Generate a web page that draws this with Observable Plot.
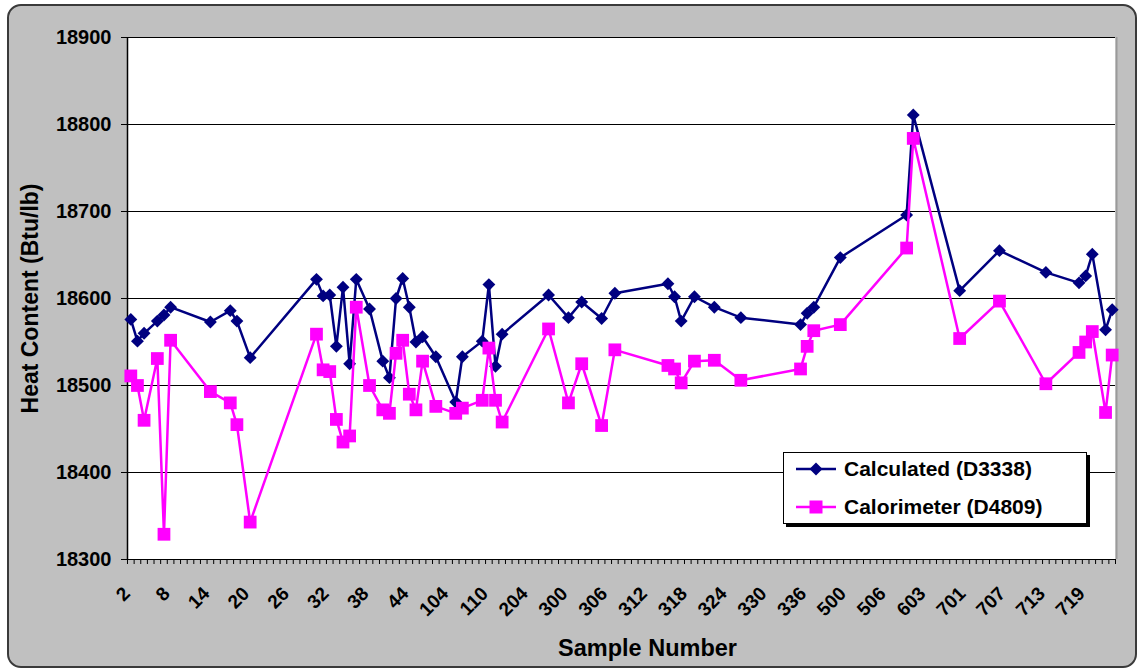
<!DOCTYPE html>
<html><head><meta charset="utf-8">
<script src="https://cdn.jsdelivr.net/npm/d3@7"></script>
<script src="https://cdn.jsdelivr.net/npm/@observablehq/plot@0.6"></script>
<style>
body{margin:0;background:#fff;font-family:"Liberation Sans",Arial,sans-serif;}
#wrap{position:relative;width:1140px;height:670px;overflow:hidden;background:#fff;}
#bg{position:absolute;left:7px;top:4px;width:1130px;height:664px;box-sizing:border-box;border:2px solid #3a3a3a;border-radius:14px;background:#c0c0c0;}
#chart{position:absolute;left:0;top:0;}
#legend{position:absolute;left:783px;top:452px;width:304px;height:72px;box-sizing:border-box;background:#fff;border:1px solid #000;box-shadow:3px 3px 0 #000;font-weight:bold;font-size:21px;color:#000;}
#legend .row{position:absolute;left:10px;height:24px;display:flex;align-items:center;}
#legend .row span{margin-left:6px;white-space:nowrap;}
</style></head><body>
<div id="wrap"><div id="bg"></div><div id="chart"></div>
<div id="legend">
  <div class="row" style="top:4px"><svg width="44" height="20"><line x1="2" x2="42" y1="10" y2="10" stroke="#000080" stroke-width="2.5"/><path d="M22,3.5 L28.5,10 L22,16.5 L15.5,10Z" fill="#000080"/></svg><span>Calculated (D3338)</span></div>
  <div class="row" style="top:42px"><svg width="44" height="20"><line x1="2" x2="42" y1="10" y2="10" stroke="#ff00ff" stroke-width="2.5"/><rect x="15.5" y="3.5" width="13" height="13" fill="#ff00ff"/></svg><span>Calorimeter (D4809)</span></div>
</div>
</div>
<script>
// All category slots of the x axis (sample numbers)
const categories = ["2","3","4","5","6","7","8","9","10","11","12","13","14","15","16","17","18","19","20","21","22","23","24","25","26","27","28","29","30","31","32","33","34","35","36","37","38","39","40","41","42","43","44",
"45","46","47","48","49",
"104","105","106","107","108","109","110",
"111","112","113","202","203",
"204","205","206","207","208","209",
"300","301","302","303","304","305","306","307","308","309","310","311","312","313","314","315","316","317","318","319","320","321","322","323","324","325","326","327","328","329","330","331","332","333","334","335","336",
"337","338","339","340","341",
"500","501","502","503","504","505","506",
"507","508","600","601","602",
"603","604","605","606","607","608",
"701","702","703","704","705","706","707","708","709","710","711","712","713","714","715","716","717","718","719","720","721","722","723"];
const tickLabels = ["2","8","14","20","26","32","38","44","104","110","204","300","306","312","318","324","330","336","500","506","603","701","707","713","719"];
const yTicks = [18300,18400,18500,18600,18700,18800,18900];

const samples = ["2","3","4","6","7","8","14","17","18","20","30","31","32","33","34","35","36","38","40","41","42","43","44","45","46","48","105","106","109","110","111","112","207","300","302","305","307","315","316","317","319","322","326","335","336","337","341","600","601","608","706","713","718","719","720","722","723"];
const calculated = [18576,18551,18560,18574,18581,18590,18573,18586,18574,18532,18622,18603,18604,18545,18613,18525,18622,18588,18528,18509,18600,18623,18590,18550,18556,18533,18481,18533,18551,18616,18522,18559,18604,18578,18596,18577,18606,18617,18602,18574,18602,18590,18578,18570,18583,18590,18647,18696,18811,18609,18655,18630,18618,18626,18651,18564,18587];
const calorimeter = [18511,18500,18460,18531,18329,18552,18493,18480,18455,18343,18559,18518,18516,18461,18435,18442,18590,18500,18472,18468,18537,18552,18490,18472,18528,18476,18468,18474,18483,18543,18483,18458,18565,18480,18525,18454,18541,18523,18519,18503,18528,18529,18506,18519,18545,18563,18570,18658,18784,18554,18597,18502,18538,18550,18562,18469,18535];

const W = 1140, H = 670;
const mL = 127, mR = 25, mT = 37, mB = 111;
const step = (W - mL - mR) / categories.length;
const rows = samples.map((s, i) => ({sample: s, calc: calculated[i], calor: calorimeter[i]}));
const font = '"Liberation Sans", Arial, sans-serif';
const last = categories[categories.length - 1];

const chart = Plot.plot({
  width: W, height: H,
  marginLeft: mL, marginRight: mR, marginTop: mT, marginBottom: mB,
  style: {background: "transparent", fontFamily: font, color: "black", overflow: "visible"},
  x: {type: "point", domain: categories, padding: 0.5, align: 0.5},
  y: {domain: [18300, 18900]},
  marks: [
    Plot.frame({fill: "white", stroke: "none"}),
    Plot.ruleY(yTicks, {stroke: "black", strokeWidth: 1}),
    Plot.ruleX([categories[0]], {dx: -step / 2, stroke: "black", strokeWidth: 1.5}),
    Plot.ruleX([last], {dx: step / 2 + 1, stroke: "#9a9a9a", strokeWidth: 2}),
    Plot.axisY({ticks: yTicks, tickSize: 6, tickPadding: 10, fontSize: 20, fontWeight: "bold", label: null, tickFormat: d => String(d)}),
    Plot.axisX({ticks: categories, tickSize: 5, tickFormat: () => "", dx: -step / 2, label: null}),
    Plot.axisX({ticks: [last], tickSize: 5, tickFormat: () => "", dx: step / 2, label: null}),
    Plot.text(tickLabels, {x: d => d, text: d => d, frameAnchor: "bottom", dy: 31, dx: -4, rotate: -45, textAnchor: "end", lineAnchor: "middle", fontSize: 19, fontWeight: "bold", fill: "black"}),
    Plot.text(["Heat Content (Btu/lb)"], {text: d => d, frameAnchor: "left", dx: -97, rotate: -90, textAnchor: "middle", lineAnchor: "middle", fontSize: 23, fontWeight: "bold", fill: "black"}),
    Plot.text(["Sample Number"], {text: d => d, frameAnchor: "bottom", dx: 26, dy: 96, textAnchor: "middle", lineAnchor: "bottom", fontSize: 23.5, fontWeight: "bold", fill: "black"}),
    Plot.line(rows, {x: "sample", y: "calc", stroke: "#000080", strokeWidth: 2.5}),
    Plot.dot(rows, {x: "sample", y: "calc", symbol: "diamond2", r: 5.8, fill: "#000080", stroke: "none"}),
    Plot.line(rows, {x: "sample", y: "calor", stroke: "#ff00ff", strokeWidth: 2.5}),
    Plot.dot(rows, {x: "sample", y: "calor", symbol: "square", r: 7.2, fill: "#ff00ff", stroke: "none"})
  ]
});
document.getElementById("chart").appendChild(chart);
</script>
</body></html>
